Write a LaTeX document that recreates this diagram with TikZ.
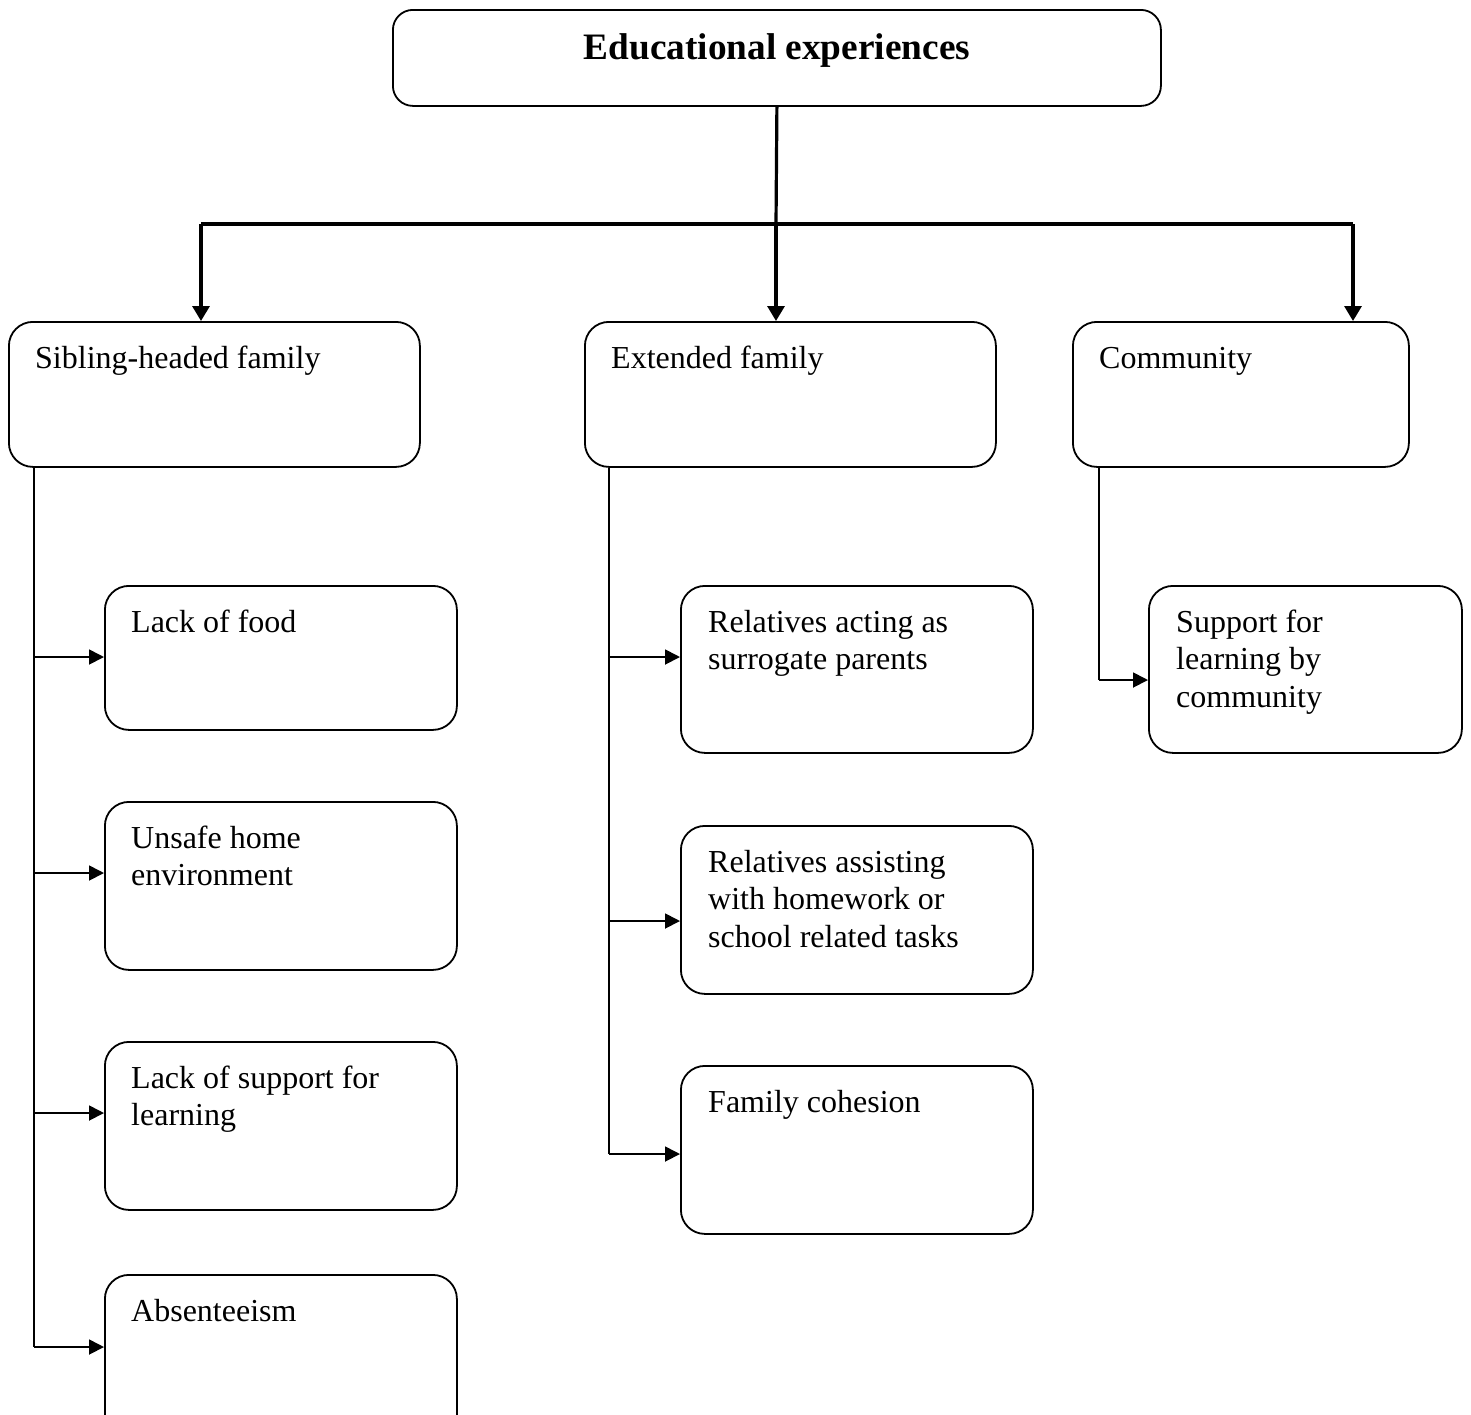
\documentclass[tikz,border=0pt]{standalone}
\usepackage{fontspec}
\setmainfont{Liberation Serif}
\usetikzlibrary{arrows.meta}

\tikzset{
  box/.style={draw, line width=1.8pt, rounded corners=24pt, anchor=north west, inner sep=0pt, minimum width=352pt, minimum height=168pt},
  txt/.style={anchor=base west, inner sep=0pt, font=\fontsize{32}{37.5}\selectfont},
  line/.style={line width=1.8pt},
  link/.style={line width=1.8pt, -{Triangle[length=15pt,width=15pt]}},
  trunk/.style={line width=3.2pt},
  drop/.style={line width=3.2pt, -{Triangle[length=15pt,width=17pt]}},
}
\newcommand{\lines}[1]{\parbox[t]{330pt}{\raggedright #1}}

\begin{document}
\begin{tikzpicture}[x=1pt, y=-1pt]
\useasboundingbox (0,0) rectangle (1471,1414);
\clip (0,0) rectangle (1471,1414);

% top box
\node[box, rounded corners=20pt, minimum width=768pt, minimum height=96pt] (edu) at (392,9) {};
\node[anchor=base, inner sep=0pt, font=\fontsize{37.3}{42}\selectfont\bfseries] (edu-t) at ([yshift=-50pt]edu.north) {Educational experiences};

% second level
\node[box, minimum width=411pt, minimum height=145pt] (sib) at (8,321) {};
\node[box, minimum width=411pt, minimum height=145pt] (ext) at (584,321) {};
\node[box, minimum width=336pt, minimum height=145pt] (com) at (1072,321) {};
\node[txt] (sib-t) at ([shift={(27pt,-47pt)}]sib.north west) {Sibling-headed family};
\node[txt] (ext-t) at ([shift={(27pt,-47pt)}]ext.north west) {Extended family};
\node[txt] (com-t) at ([shift={(27pt,-47pt)}]com.north west) {Community};

% sibling-headed family
\node[box, minimum height=144pt] (food) at (104,585) {};
\node[box] (unsafe) at (104,801) {};
\node[box] (nosupport) at (104,1041) {};
\node[box] (absent) at (104,1274) {};
\node[txt] (food-t) at ([shift={(27pt,-47pt)}]food.north west) {Lack of food};
\node[txt] (unsafe-t) at ([shift={(27pt,-47pt)}]unsafe.north west) {\lines{Unsafe home\\environment}};
\node[txt] (nosupport-t) at ([shift={(27pt,-47pt)}]nosupport.north west) {\lines{Lack of support for\\learning}};
\node[txt] (absent-t) at ([shift={(27pt,-47pt)}]absent.north west) {Absenteeism};

% extended family
\node[box, minimum height=167pt] (surrogate) at (680,585) {};
\node[box] (homework) at (680,825) {};
\node[box] (cohesion) at (680,1065) {};
\node[txt] (surrogate-t) at ([shift={(28pt,-47pt)}]surrogate.north west) {\lines{Relatives acting as\\surrogate parents}};
\node[txt] (homework-t) at ([shift={(28pt,-47pt)}]homework.north west) {\lines{Relatives assisting\\with homework or\\school related tasks}};
\node[txt] (cohesion-t) at ([shift={(28pt,-47pt)}]cohesion.north west) {Family cohesion};

% community
\node[box, minimum width=313pt, minimum height=167pt] (learn) at (1148,585) {};
\node[txt] (learn-t) at ([shift={(28pt,-47pt)}]learn.north west) {\lines{Support for\\learning by\\community}};

% trunk and bus
\coordinate (hub) at (776,224);
\coordinate (busL) at (201,224);
\coordinate (busR) at (1353,224);
\draw[trunk] (edu.south) -- (hub);
\draw[trunk] (busL) -- (busR);
\draw[drop] (busL) -- (busL |- sib.north);
\draw[drop] (hub) -- (hub |- ext.north);
\draw[drop] (busR) -- (busR |- com.north);

% spines
\coordinate (s1) at (34,657);
\coordinate (s2) at (34,873);
\coordinate (s3) at (34,1113);
\coordinate (s4) at (34,1347);
\draw[line] (s1 |- sib.south) -- (s4);
\draw[link] (s1) -- (s1 -| food.west);
\draw[link] (s2) -- (s2 -| unsafe.west);
\draw[link] (s3) -- (s3 -| nosupport.west);
\draw[link] (s4) -- (s4 -| absent.west);

\coordinate (e1) at (609,657);
\coordinate (e2) at (609,921);
\coordinate (e3) at (609,1154);
\draw[line] (e1 |- ext.south) -- (e3);
\draw[link] (e1) -- (e1 -| surrogate.west);
\draw[link] (e2) -- (e2 -| homework.west);
\draw[link] (e3) -- (e3 -| cohesion.west);

\coordinate (c1) at (1099,680);
\draw[line] (c1 |- com.south) -- (c1);
\draw[link] (c1) -- (c1 -| learn.west);
\end{tikzpicture}
\end{document}
